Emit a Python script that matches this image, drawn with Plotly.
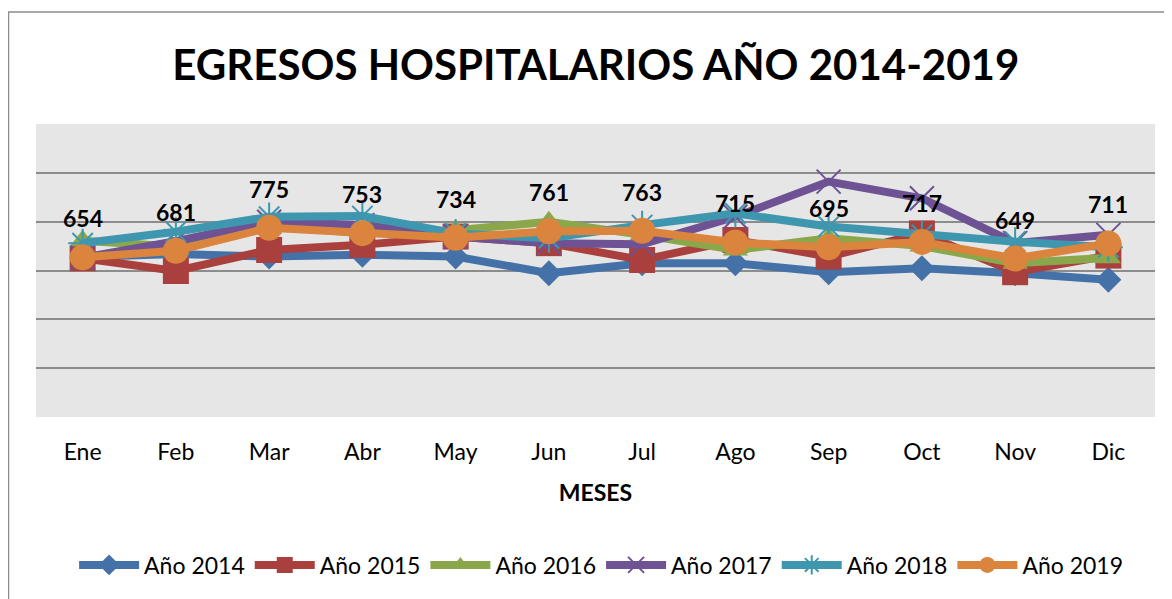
import plotly.graph_objects as go

meses = ["Ene", "Feb", "Mar", "Abr", "May", "Jun", "Jul", "Ago", "Sep", "Oct", "Nov", "Dic"]

y2014 = [655, 668, 657, 664, 657, 589, 630, 630, 593, 609, 589, 562]
y2015 = [650, 598, 684, 705, 739, 712, 643, 725, 657, 752, 593, 661]
y2016 = [722, 698, 786, 752, 765, 800, 746, 684, 732, 700, 630, 652]
y2017 = [652, 720, 800, 786, 739, 712, 708, 820, 964, 896, 712, 746]
y2018 = [712, 759, 820, 823, 752, 732, 786, 834, 780, 746, 718, 695]
y2019 = [654, 681, 775, 753, 734, 761, 763, 715, 695, 717, 649, 711]

FONT = "Lato"

series = [
    ("Año 2014", y2014, "#4472A8", dict(symbol="diamond", size=20)),
    ("Año 2015", y2015, "#A9403D", dict(symbol="square", size=26)),
    ("Año 2016", y2016, "#8AA84B", dict(symbol="triangle-up", size=22)),
    ("Año 2017", y2017, "#6E5293", dict(symbol="x-thin-open", size=24, line=dict(width=2))),
    ("Año 2018", y2018, "#3E97AE", dict(symbol="asterisk-open", size=24, line=dict(width=2))),
    ("Año 2019", y2019, "#DB843D", dict(symbol="circle", size=26)),
]

fig = go.Figure()
for name, vals, color, mk in series:
    mk = dict(mk, color=color)
    if "line" in mk:
        mk["line"] = dict(mk["line"], color=color)
    fig.add_trace(go.Scatter(x=meses, y=vals, name=name, mode="lines+markers",
                             line=dict(color=color, width=8), marker=mk))

# etiquetas de datos del 2019
for m, v in zip(meses, y2019):
    fig.add_annotation(x=m, y=v, text=f"<b>{v}</b>", showarrow=False, yshift=39,
                       font=dict(family=FONT, size=23, color="black"))

# borde del grafico
fig.add_shape(type="rect", xref="paper", yref="paper",
              x0=(8.5 - 36) / 1119, x1=(1185 - 36) / 1119,
              y0=(417 - 620) / 293, y1=(417 - 12) / 293,
              line=dict(color="#8c8c8c", width=1.5), fillcolor="rgba(0,0,0,0)", layer="below")

fig.update_layout(
    width=1164, height=591,
    margin=dict(l=28, r=17, t=116, b=182),
    paper_bgcolor="white", plot_bgcolor="#e6e6e6",
    title=dict(text="<b>EGRESOS HOSPITALARIOS AÑO 2014-2019</b>", x=0.505, xanchor="center",
               y=1 - 57 / 591, yanchor="middle", yref="container",
               font=dict(family=FONT, size=42, color="black")),
    font=dict(family=FONT, color="black"),
    showlegend=True,
    legend=dict(orientation="h", x=0.505, xanchor="center", y=-0.505, yanchor="middle",
                font=dict(family=FONT, size=23), itemwidth=60, traceorder="normal",
                bgcolor="rgba(0,0,0,0)"),
    xaxis=dict(range=[-0.5, 11.5], showgrid=False, zeroline=False, showline=False,
               tickfont=dict(family=FONT, size=23), ticklabelstandoff=19,
               title=dict(text="<b>MESES</b>", font=dict(family=FONT, size=23), standoff=20)),
    yaxis=dict(range=[0, 1200], dtick=200, showticklabels=False, showgrid=True,
               gridcolor="#8c8c8c", gridwidth=2, zeroline=False, showline=False),
)

fig.write_html("out.html")
